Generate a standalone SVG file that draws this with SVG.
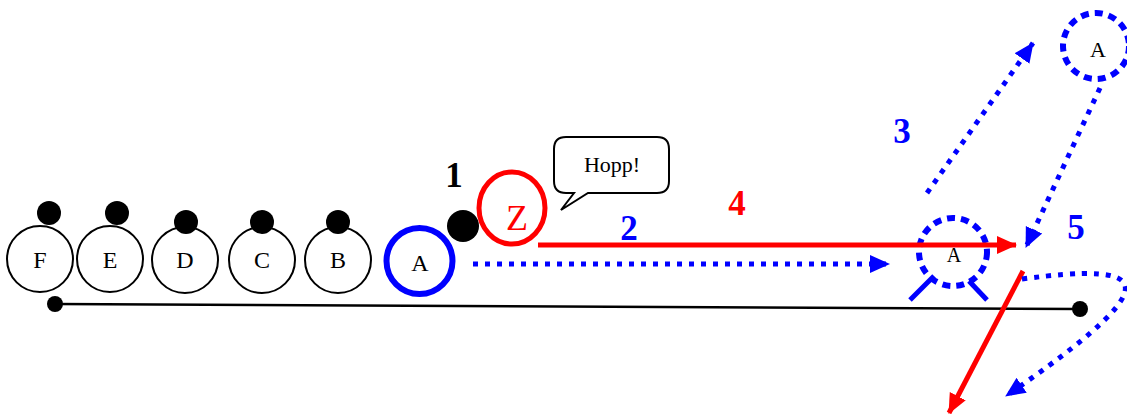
<svg xmlns="http://www.w3.org/2000/svg" width="1127" height="414" viewBox="0 0 1127 414">
<style>
.pc{fill:#fff;stroke:#000;stroke-width:2}
.lbl{font-family:"Liberation Serif",serif;font-size:24px;text-anchor:middle;fill:#000}
.num{font-family:"Liberation Serif",serif;font-size:35px;font-weight:bold;text-anchor:middle}
.dot{fill:#000}
.bdot{fill:none;stroke:#0000ff;stroke-width:5;stroke-dasharray:5 7}
.bdash{fill:none;stroke:#0000ff;stroke-width:6;stroke-dasharray:8 6}
.red{fill:none;stroke:#ff0000;stroke-width:5}
</style>
<defs>
<marker id="ab" markerUnits="userSpaceOnUse" markerWidth="20" markerHeight="20" viewBox="0 0 20 20" refX="19" refY="10" orient="auto">
<path d="M0,1 L20,10 L0,19 Z" fill="#0000ff"/>
</marker>
<marker id="ar" markerUnits="userSpaceOnUse" markerWidth="20" markerHeight="20" viewBox="0 0 20 20" refX="19" refY="10" orient="auto">
<path d="M0,1 L20,10 L0,19 Z" fill="#ff0000"/>
</marker>
</defs>
<g id="ground">
<line x1="55" y1="304" x2="1080" y2="309" stroke="#000" stroke-width="2.5"/>
<circle cx="55" cy="304" r="8" class="dot"/>
<circle cx="1080" cy="309" r="8" class="dot"/>
</g>
<g id="nodeF"><circle cx="40" cy="259" r="33" class="pc"/><circle cx="49" cy="213" r="12" class="dot"/><text x="40" y="268" class="lbl">F</text></g>
<g id="nodeE"><circle cx="110" cy="259" r="33" class="pc"/><circle cx="117" cy="213" r="12" class="dot"/><text x="110" y="268" class="lbl">E</text></g>
<g id="nodeD"><circle cx="185" cy="260" r="33" class="pc"/><circle cx="186" cy="222" r="12" class="dot"/><text x="185" y="268" class="lbl">D</text></g>
<g id="nodeC"><circle cx="262" cy="260" r="33" class="pc"/><circle cx="262" cy="222" r="12" class="dot"/><text x="262" y="268" class="lbl">C</text></g>
<g id="nodeB"><circle cx="338" cy="260" r="33" class="pc"/><circle cx="338" cy="222" r="12" class="dot"/><text x="338" y="268" class="lbl">B</text></g>
<g id="nodeA"><circle cx="419.5" cy="261" r="33" fill="#fff" stroke="#0000ff" stroke-width="6"/><text x="420" y="271" class="lbl">A</text></g>
<g id="ball"><circle cx="463" cy="226" r="16" class="dot"/><text x="454" y="187" class="num" fill="#000">1</text></g>
<g id="nodeZ"><ellipse cx="512" cy="208" rx="33" ry="36" fill="#fff" stroke="#ff0000" stroke-width="5"/><text x="517" y="230" font-family="Liberation Serif,serif" font-size="36" text-anchor="middle" fill="#ff0000">Z</text></g>
<g id="bubble">
<path d="M566,137 H657 Q669,137 669,149 V181 Q669,193 657,193 H588 L561,210 L574,193 H566 Q554,193 554,181 V149 Q554,137 566,137 Z" fill="#fff" stroke="#000" stroke-width="2"/>
<text x="612" y="172" font-family="Liberation Serif,serif" font-size="22" text-anchor="middle" fill="#000">Hopp!</text>
</g>
<g id="nodeA2">
<circle cx="953" cy="252" r="34" fill="none" class="bdash"/>
<text x="954" y="262" font-family="Liberation Serif,serif" font-size="20" text-anchor="middle" fill="#000">A</text>
<line x1="910" y1="300" x2="934" y2="276" stroke="#0000ff" stroke-width="5"/>
<line x1="969" y1="281" x2="987" y2="300" stroke="#0000ff" stroke-width="5"/>
</g>
<g id="nodeA3">
<circle cx="1096" cy="46" r="33" class="bdash"/>
<text x="1098" y="57" font-family="Liberation Serif,serif" font-size="22" text-anchor="middle" fill="#000">A</text>
</g>
<g id="connectors">
<line x1="473" y1="264" x2="889" y2="264" class="bdot" marker-end="url(#ab)"/>
<line x1="538" y1="245" x2="1016" y2="245" class="red" marker-end="url(#ar)"/>
<line x1="927" y1="193" x2="1033" y2="43" class="bdot" marker-end="url(#ab)"/>
<line x1="1100" y1="88" x2="1026" y2="247" class="bdot" marker-end="url(#ab)"/>
<line x1="1023" y1="271" x2="949" y2="413" class="red" marker-end="url(#ar)"/>
<path d="M1022,279 C1150,262 1175,280 1006,396" class="bdot" marker-end="url(#ab)"/>
</g>
<g id="labels">
<text x="629" y="240" class="num" fill="#0000ff">2</text>
<text x="737" y="215" class="num" fill="#ff0000">4</text>
<text x="902" y="143" class="num" fill="#0000ff">3</text>
<text x="1076" y="239" class="num" fill="#0000ff">5</text>
</g>
</svg>
